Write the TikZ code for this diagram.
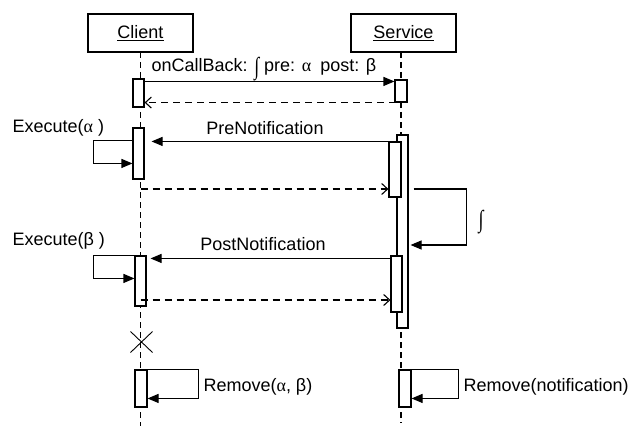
\documentclass[tikz,border=0pt]{standalone}
\usepackage{fontspec}
\setmainfont{Liberation Sans}
\newfontfamily\sgreek{Liberation Serif}
\usetikzlibrary{arrows.meta,calc}
\newcommand\myint{\raisebox{-0.15em}{\scalebox{1}[1.35]{\sgreek ∫}}}
\begin{document}
\begin{tikzpicture}[x=1pt,y=-1pt, line width=1.1pt,
  lbl/.style={font=\fontsize{18}{20}\selectfont, inner sep=0pt},
  head/.style={draw, minimum width=105pt, minimum height=38pt, lbl},
  act/.style={draw, fill=white, minimum width=11pt, inner sep=0pt},
  life/.style={dash pattern=on 6pt off 4pt},
  msg/.style={-{Triangle[length=11pt,width=9pt]}},
  ret/.style={dash pattern=on 7pt off 5pt, -{Straight Barb[length=6pt,width=11pt]}},
]
\useasboundingbox (0,0) rectangle (635,428);
% heads
\node[head] (client) at (140.5,33) {\underline{Client}};
\node[head] (service) at (403.5,33) {\underline{Service}};
% lifelines
\coordinate (ctop) at (140.5,52);
\coordinate (cend) at (140.5,426);
\coordinate (stop) at (401,52);
\coordinate (send) at (401,423);
\draw[life] (ctop) -- (cend);
\draw[life] (stop) -- (send);
% activations
\node[act, minimum height=28pt] (ca1) at (138.5,93) {};
\node[act, minimum width=12pt, minimum height=22pt] (sa1) at (401,91) {};
\node[act, minimum height=51pt] (ca2) at (138.5,153.5) {};
\node[act, minimum height=193pt] (stall) at (402.5,231.5) {};
\node[act, minimum width=12pt, minimum height=55pt] (sa2) at (395,169.5) {};
\node[act, minimum height=56pt] (sa3) at (396.5,284) {};
\node[act, minimum height=50pt] (ca3) at (140.5,281) {};
\node[act, minimum width=12pt, minimum height=37pt] (ca4) at (141,388.5) {};
\node[act, minimum width=12pt, minimum height=37pt] (sa4) at (405,388.5) {};
% call
\draw[msg] ([yshift=-3pt]ca1.north east) coordinate (m1) -- (sa1.west |- m1);
\node[lbl, anchor=west] (callL) at (151,69) {onCallBack: \myint\ pre: {\sgreek α}\enspace post: β};
\draw[ret] (sa1.south east) coordinate (r1) -- (ca1.east |- r1);
% prenotification
\draw[msg, shorten >=7pt] (sa2.north west) -- (ca2.east |- sa2.north west);
\node[lbl] (preL) at (265,128) {PreNotification};
\draw[msg] ([yshift=-13pt]ca2.north west) -- ++(-39,0) -- ++(0,23) coordinate (e2) -- (ca2.west |- e2);
\node[lbl, anchor=west] (exa) at (12,128) {Execute({\sgreek α} )};
\coordinate (d1) at (140.5,189);
\draw[ret] (d1) -- (sa2.west |- d1);
% f loop
\draw[msg, shorten >=2pt] ($(stall.east |- d1)+(5,0)$) -- ++(53,0) -- ++(0,56) coordinate (f2) -- (stall.east |- f2);
\node[lbl] (fL) at (481,222) {\myint};
% postnotification
\draw[msg, shorten >=4pt] ([yshift=-3pt]sa3.north west) coordinate (p1) -- (ca3.east |- p1);
\node[lbl] (postL) at (263,244) {PostNotification};
\draw[msg] (ca3.north west) -- ++(-41,0) -- ++(0,23) coordinate (e3) -- (ca3.west |- e3);
\node[lbl, anchor=west] (exb) at (12,241) {Execute(β )};
\coordinate (d2) at (140.5,300);
\draw[ret] (d2) -- (sa3.west |- d2);
% destruction
\coordinate (kill) at (141.5,342);
\draw[line width=0.9pt] ($(kill)+(-11,-10.5)$) -- ($(kill)+(11,10.5)$)
  ($(kill)+(-11,10.5)$) -- ($(kill)+(11,-10.5)$);
% remove loops
\draw[msg] (ca4.north east) -- ++(51,0) -- ++(0,29) coordinate (g2) -- (ca4.east |- g2);
\node[lbl, anchor=west] (remA) at (203,387) {Remove({\sgreek α}, β)};
\draw[msg] (sa4.north east) -- ++(47,0) -- ++(0,29) coordinate (h2) -- (sa4.east |- h2);
\node[lbl, anchor=west] (remN) at (463,387) {Remove(notification)};
\end{tikzpicture}
\end{document}
